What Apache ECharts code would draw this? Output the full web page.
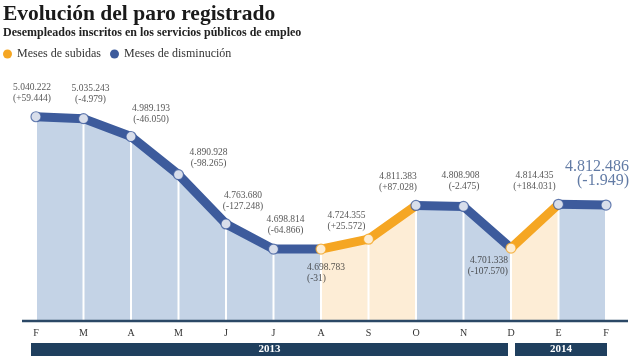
<!DOCTYPE html>
<html>
<head>
<meta charset="utf-8">
<script src="https://cdn.jsdelivr.net/npm/echarts@6/dist/echarts.min.js"></script>
<style>html,body{margin:0;padding:0;background:#fff}#c{width:644px;height:362px}</style>
</head>
<body>
<div id="c"></div>
<script>
const months = ['F','M','A','M','J','J','A','S','O','N','D','E','F'];
const paro = [5040222, 5035243, 4989193, 4890928, 4763680, 4698814, 4698783, 4724355, 4811383, 4808908, 4701338, 4814435, 4812486];
const variacion = [59444, -4979, -46050, -98265, -127248, -64866, -31, 25572, 87028, -2475, -107570, 184031, -1949];
const years = [{name:'2013', from:0, to:10}, {name:'2014', from:10, to:12}];
const legendNames = ['Meses de subidas', 'Meses de disminución'];

// styling (not data)
const SERIF = 'Liberation Serif';
const C_UP = '#F5A623', C_DOWN = '#3D5B9C';
const A_UP = '#FDEDD6', A_DOWN = '#C4D3E6';
const labelLayout = [
  {pos:'top', d:7.5, dx:-4, align:'center'},
  {pos:'top', d:8, dx:7, align:'center'},
  {pos:'top', d:6, dx:20, align:'center'},
  {pos:'top', d:0, dx:30, align:'center'},
  {pos:'top', d:6, dx:17, align:'center'},
  {pos:'top', d:7.5, dx:12, align:'center'},
  {pos:'bottom', d:7.5, dx:-14, align:'left'},
  {pos:'top', d:1.5, dx:-22, align:'center'},
  {pos:'top', d:6.5, dx:-18, align:'center'},
  {pos:'top', d:8.5, dx:16, align:'right'},
  {pos:'bottom', d:1.5, dx:-3, align:'right'},
  {pos:'top', d:6.5, dx:-24, align:'center'},
  {pos:'top', d:12, dx:23, align:'right', big:true}
];

function fmt(n){ return String(Math.abs(n)).replace(/\B(?=(\d{3})+(?!\d))/g, '.'); }

const series = [];
const n = paro.length;
// areas
for (let i = 0; i < n - 1; i++) {
  const up = variacion[i+1] > 0;
  const d = paro.map((v, k) => (k === i || k === i+1) ? v : null);
  series.push({type:'line', name:'area'+i, data:d, showSymbol:false, silent:true, z:1,
    lineStyle:{width:0}, areaStyle:{color: up ? A_UP : A_DOWN, opacity:1, origin:'start'}});
}
// white separators
series.push({type:'bar', name:'sep', data:paro, barWidth:2, z:2, silent:true,
  itemStyle:{color:'#ffffff'}});
// lines
for (let i = 0; i < n - 1; i++) {
  const up = variacion[i+1] > 0;
  const d = paro.map((v, k) => (k === i || k === i+1) ? v : null);
  series.push({type:'line', name: up ? legendNames[0] : legendNames[1], data:d, showSymbol:false, z:3,
    itemStyle:{color: up ? C_UP : C_DOWN},
    lineStyle:{width:9, color: up ? C_UP : C_DOWN, cap:'round', join:'round'}});
}
// markers + labels
const pts = paro.map((v, i) => {
  const segColor = (i < n - 1) ? (variacion[i+1] > 0 ? C_UP : C_DOWN) : (variacion[i] > 0 ? C_UP : C_DOWN);
  const L = labelLayout[i];
  return {
    value: v,
    itemStyle:{color:'#ffffff', borderColor: segColor, borderWidth:1.2},
    label:{show:true, position:L.pos, distance:L.d, offset:[L.dx, 0], align:L.align,
      formatter: fmt(v) + '\n(' + (variacion[i] > 0 ? '+' : '-') + fmt(variacion[i]) + ')',
      fontFamily:SERIF, fontSize: L.big ? 16 : 9.5, lineHeight: L.big ? 14 : 11,
      color: L.big ? '#3B5A8F' : '#2a2a2a'}
  };
});
series.push({type:'scatter', name:'pts', data:pts, symbol:'circle', symbolSize:10, z:4});

const chart = echarts.init(document.getElementById('c'));
chart.setOption({
  animation:false,
  backgroundColor:'#ffffff',
  title:[
    {text:'Evolución del paro registrado', left:3, top:3, padding:0,
      textStyle:{fontFamily:SERIF, fontSize:21.5, fontWeight:'bold', color:'#1a1a1a'}},
    {text:'Desempleados inscritos en los servicios públicos de empleo', left:3, top:27, padding:0,
      textStyle:{fontFamily:SERIF, fontSize:12, fontWeight:'bold', color:'#222'}}
  ],
  legend:{data:legendNames, left:3, top:48, padding:0, icon:'circle', itemWidth:9, itemHeight:9, itemGap:9,
    textStyle:{fontFamily:SERIF, fontSize:12, color:'#333'}},
  grid:{left:36, right:38, top:16, bottom:42},
  xAxis:{type:'category', data:months, boundaryGap:false,
    axisLine:{show:false}, axisTick:{show:false}, splitLine:{show:false},
    axisLabel:{margin:8, fontFamily:SERIF, fontSize:10, color:'#333'}},
  yAxis:{type:'value', min:4516000, max:5300000, show:false, splitLine:{show:false}},
  series: series
});

const xp = i => chart.convertToPixel({xAxisIndex:0}, i);
const graphics = [
  {type:'line', shape:{x1:xp(0)-14, y1:321, x2:xp(n-1)+22, y2:321}, style:{stroke:'#2B4866', lineWidth:2.5}, z:10}
];
years.forEach((y, k) => {
  const x1 = k === 0 ? xp(y.from) - 5 : xp(y.from) + 4;
  const x2 = k === 0 ? xp(y.to) - 3 : xp(y.to) + 1;
  graphics.push({type:'rect', shape:{x:x1, y:343, width:x2-x1, height:13}, style:{fill:'#1F3F5E'}, z:10});
  graphics.push({type:'text', x:(x1+x2)/2, y:349.5, style:{text:y.name, fill:'#ffffff', font:'bold 11px "Liberation Serif"', align:'center', verticalAlign:'middle'}, z:11});
});
chart.setOption({graphic:graphics});
</script>
</body>
</html>
